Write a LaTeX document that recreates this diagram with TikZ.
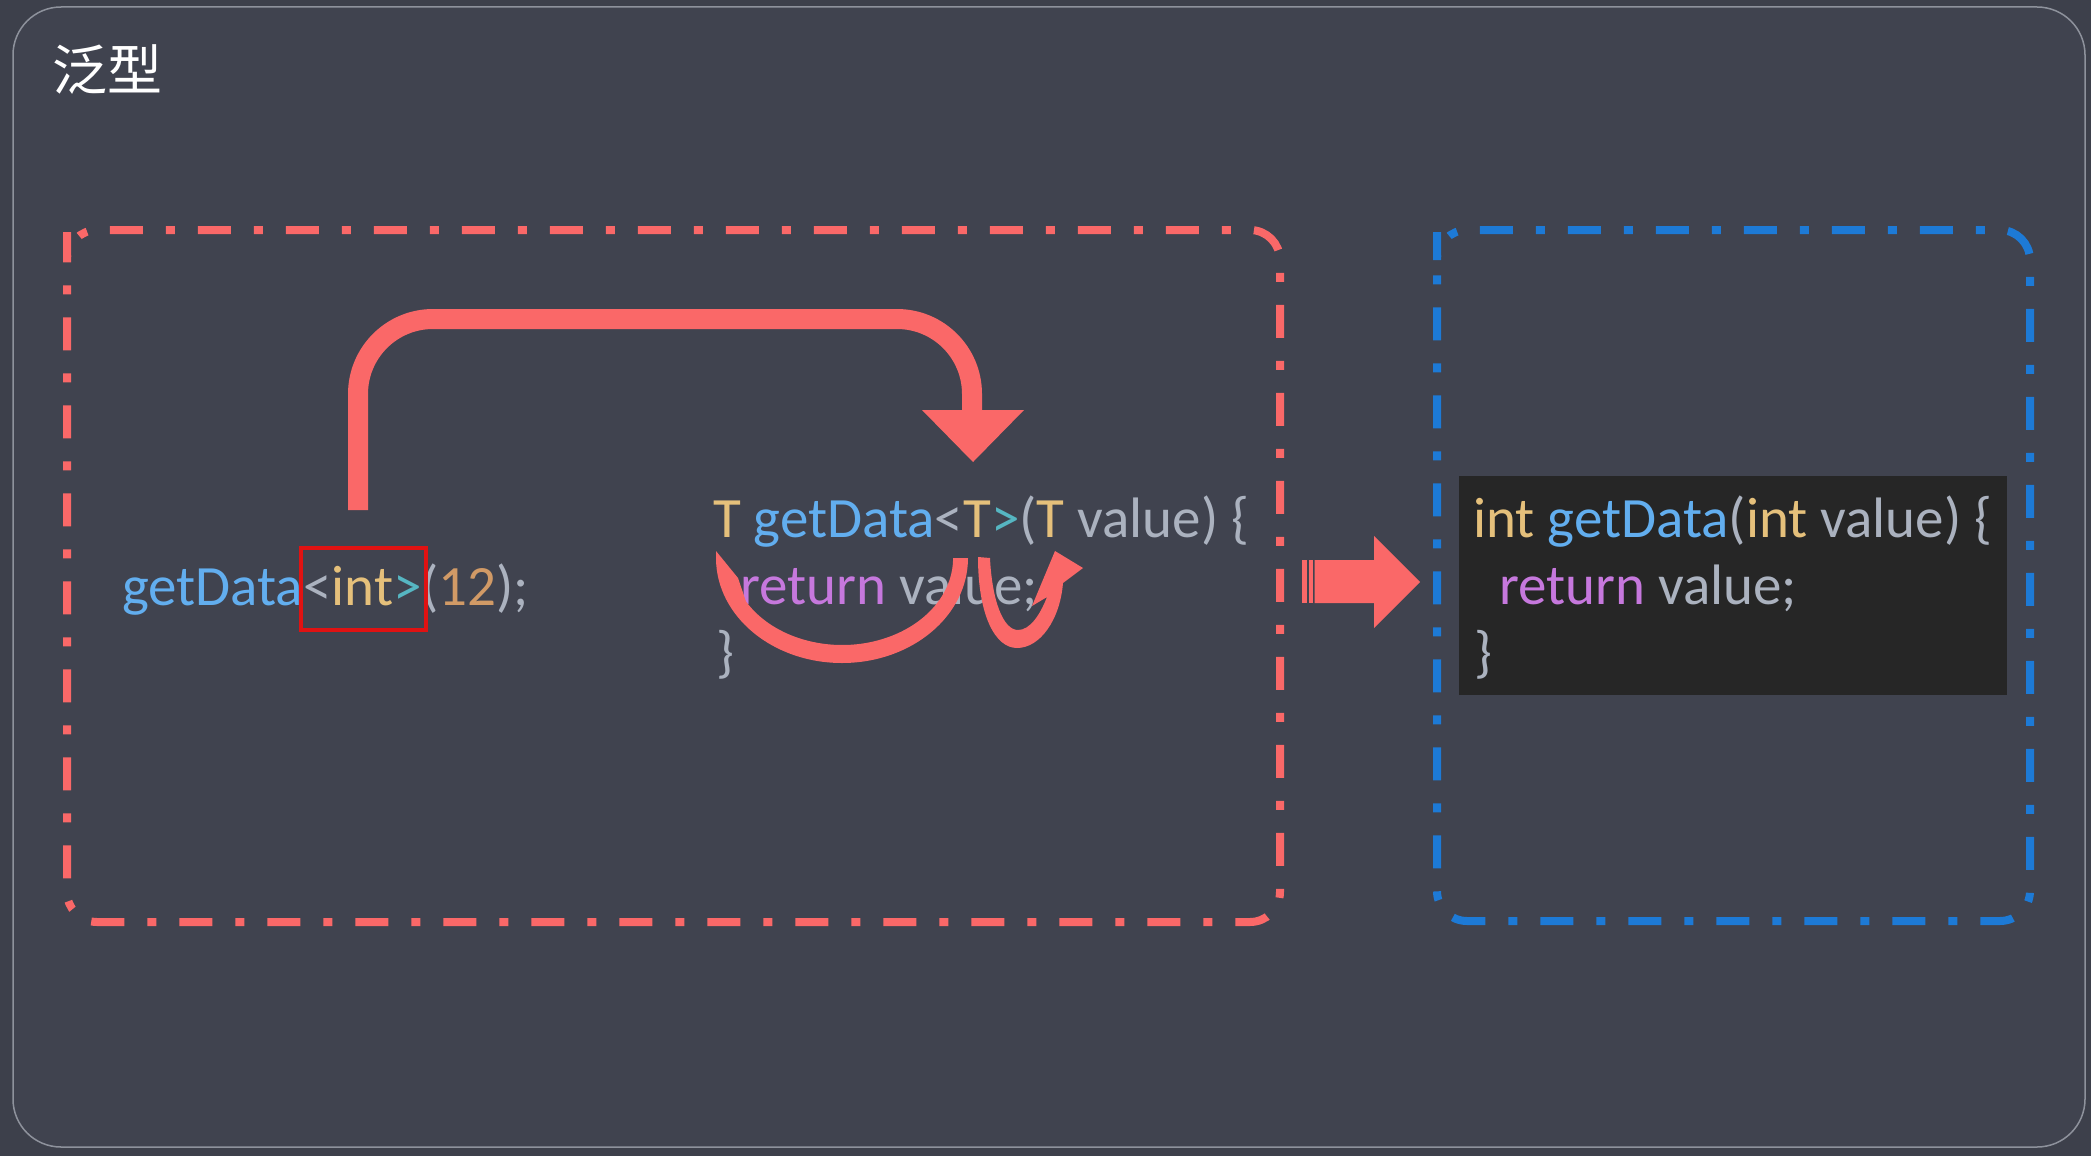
\documentclass[tikz,border=0pt]{standalone}
\usepackage{fontspec}
\newfontfamily\codefont{Carlito}
\newfontfamily\cjkfont{Noto Sans CJK SC}
\definecolor{bgout}{HTML}{3D404B}
\definecolor{bgin}{HTML}{40434F}
\definecolor{framec}{HTML}{8E929C}
\definecolor{arrred}{HTML}{FA6868}
\definecolor{boxblue}{HTML}{1D7AD6}
\definecolor{intred}{HTML}{E01212}
\definecolor{codebg}{HTML}{262626}
\definecolor{cfn}{HTML}{62AEEF}
\definecolor{cty}{HTML}{E5C07B}
\definecolor{cpl}{HTML}{ABB2BF}
\definecolor{ccy}{HTML}{56B6C2}
\definecolor{cnu}{HTML}{D19A66}
\definecolor{ckw}{HTML}{C678DD}
\newcommand\fnc[1]{\textcolor{cfn}{#1}}
\newcommand\tyc[1]{\textcolor{cty}{#1}}
\newcommand\plc[1]{\textcolor{cpl}{#1}}
\newcommand\cyc[1]{\textcolor{ccy}{#1}}
\newcommand\nuc[1]{\textcolor{cnu}{#1}}
\newcommand\kwc[1]{\textcolor{ckw}{#1}}
\tikzset{
  codetxt/.style={font=\codefont\fontsize{57}{67}\selectfont, inner sep=0pt, anchor=base west, text=cpl},
  dashbox/.style={line width=8pt, rounded corners=30pt, dash pattern=on 33pt off 23pt on 9pt off 23pt},
  bigarrow/.style={draw=arrred, line width=20pt, rounded corners=75pt},
  redfill/.style={fill=arrred}
}
\begin{document}
\begin{tikzpicture}[x=1pt,y=-1pt]
\useasboundingbox (0,0) rectangle (2091,1156);
\fill[bgout] (0,0) rectangle (2091,1156);
\draw[framec, line width=1.5pt, fill=bgin, rounded corners=48pt] (13,7) rectangle (2085,1147);

% title
\node[inner sep=0pt, anchor=base west, text=white, font=\cjkfont\fontsize{55}{60}\selectfont] (title) at (52,91) {泛型};

% dashed boxes
\draw[dashbox, arrred] (67,262) -- (67,230) -- (1280,230) -- (1280,922) -- (67,922) -- cycle;
\draw[dashbox, boxblue] (1437,262) -- (1437,230) -- (2030,230) -- (2030,921) -- (1437,921) -- cycle;

% black code panel
\fill[codebg] (1459,476) rectangle (2007,695);

% code texts
\node[codetxt] (call) at (122,605) {\fnc{getData}\plc{<}\tyc{int}\cyc{>}\plc{(}\nuc{12}\plc{);}};
\node[codetxt] (t1) at (713,537) {\tyc{T} \fnc{getData}\plc{<}\tyc{T}\cyc{>}\plc{(}\tyc{T} \plc{value) \{}};
\node[codetxt] (t2) at (740,604) {\kwc{return} \plc{value;}};
\node[codetxt] (t3) at (716,671) {\plc{\}}};
\node[codetxt] (r1) at (1473,537) {\tyc{int} \fnc{getData}\plc{(}\tyc{int} \plc{value) \{}};
\node[codetxt] (r2) at (1499,604) {\kwc{return} \plc{value;}};
\node[codetxt] (r3) at (1474,671) {\plc{\}}};

% highlight of <int>
\node[draw=intred, line width=4pt, minimum width=125pt, minimum height=82pt, inner sep=0pt] (intbox) at (363.5,589) {};

% big top arrow from <int> to template
\coordinate (s0) at (358,510);
\coordinate (s1) at (358,319);
\coordinate (s2) at (972,319);
\coordinate (s3) at (972,412);
\draw[bigarrow] (s0) -- (s1) -- (s2) -- (s3);
\fill[arrred] (922,410) -- (1024,410) -- (973,462) -- cycle;

% curved arrow 1 (from <T> back to return type T)
\fill[redfill] (968,558) arc[start angle=0, end angle=180, x radius=126, y radius=105]
  -- (716,551) -- (738,578) -- (746,601.5)
  arc[start angle=150, end angle=0, x radius=111, y radius=87] -- cycle;

% curved arrow 2 (from <T> to parameter T)
\fill[redfill] (978,557) .. controls (978,615) and (995,648) .. (1017,648)
  .. controls (1040,648) and (1060,620) .. (1063,583)
  -- (1083,568) -- (1055,551) -- (1032,606) -- (1047,597)
  .. controls (1040,615) and (1030,630) .. (1018,630)
  .. controls (1003,630) and (992,600) .. (990,558) -- cycle;

% striped right arrow between boxes
\fill[arrred] (1302,560) rectangle (1306.5,603);
\fill[arrred] (1308.5,560) rectangle (1312.5,603);
\fill[arrred] (1314.5,560) -- (1374,560) -- (1374,536) -- (1420,582) -- (1374,628) -- (1374,603) -- (1314.5,603) -- cycle;
\end{tikzpicture}
\end{document}
